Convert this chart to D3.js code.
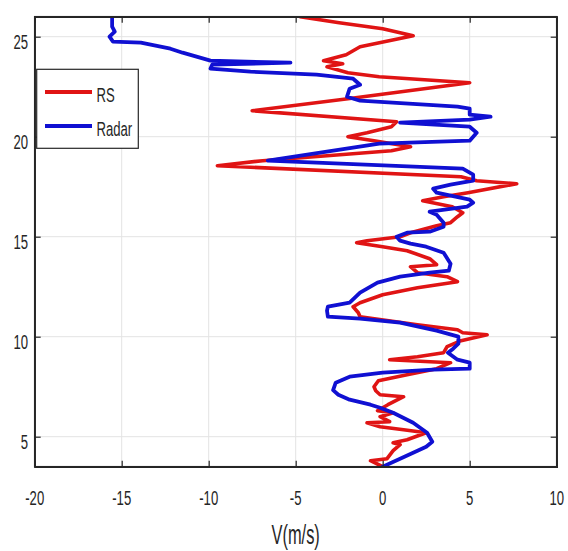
<!DOCTYPE html>
<html>
<head>
<meta charset="utf-8">
<script src="https://cdn.jsdelivr.net/npm/d3@7"></script>
<style>
  html, body { margin: 0; padding: 0; background: #fff; }
  svg { display: block; }
  text { font-family: "Liberation Sans", Arial, sans-serif; fill: #262626; }
</style>
</head>
<body>
<svg id="chart" width="568" height="551"></svg>
<script>
// ---- data ----
const rsHeight = [3.5,3.8,3.9,4.3,4.6,4.7,4.85,5.2,5.35,5.5,5.7,5.75,6.0,6.2,6.3,6.6,7.0,7.1,7.3,7.5,7.8,8.1,8.4,8.7,8.85,9.0,9.2,9.5,9.8,10.1,10.2,10.35,10.6,11.0,11.2,11.5,11.7,12.1,12.45,12.75,13.0,13.2,13.5,13.6,13.9,14.3,14.5,14.7,14.8,15.0,15.2,15.55,15.7,16.0,16.2,16.5,16.8,17.0,17.2,17.65,17.8,18.0,18.55,18.8,19.3,19.5,19.8,20.0,20.2,20.5,20.75,21.3,21.9,22.7,23.0,23.2,23.5,23.65,23.8,24.1,24.5,25.05,25.2,25.4,25.7,26.0];
const rsV      = [0,-0.7,0.25,0.6,1.0,0.6,1.4,2.5,1.2,-0.15,-0.9,0.4,-0.15,0.6,-0.3,0.3,1.2,-0.15,-0.4,-0.5,-0.25,1.4,3.1,3.9,0.4,2.0,3.5,3.7,4.5,6.0,4.6,4.3,2.0,-1.3,-1.4,-1.7,-1.3,0,2.0,4.3,3.7,2.0,1.6,3.1,2.7,1.4,0,-1.5,-0.9,1.0,1.6,3.1,3.9,4.3,4.6,4.0,2.3,3.5,4.9,7.7,5.4,4.5,-9.5,-6.9,0.5,1.6,-0.5,-2.0,-0.9,0.5,0.8,-7.5,-2.0,5.0,-0.2,-2.0,-3.2,-2.3,-3.4,-2.1,-1.3,1.75,1.0,0.0,-2.5,-4.75];

const radarHeight = [3.5,3.9,4.3,4.5,4.75,5.2,5.7,6.2,6.45,6.6,6.85,7.1,7.33,7.7,8.0,8.2,8.35,8.4,8.7,8.85,9.2,9.4,9.65,10.0,10.3,10.7,10.9,11.0,11.3,11.5,11.7,12.2,12.7,13.0,13.2,13.3,13.65,14.2,14.5,14.65,14.8,15.0,15.2,15.25,15.5,15.7,16.1,16.25,16.5,16.7,16.85,17.2,17.4,17.6,17.8,18.1,18.4,18.8,19.65,19.8,20.2,20.5,20.7,20.85,21.0,21.1,21.4,21.5,21.8,22.0,22.4,22.6,22.9,23.1,23.25,23.4,23.6,23.7,23.8,24.2,24.4,24.7,24.75,25.0,25.25,25.5,26.0];
const radarV      = [0,1.0,2.0,2.5,2.85,2.55,1.75,0.6,-0.15,-0.7,-1.9,-2.55,-2.85,-2.7,-1.9,0,2.9,5.0,5.0,4.3,3.75,4.05,4.35,4.35,3.1,1.0,-1.3,-3.15,-3.2,-3.15,-1.9,-1.3,-0.3,1.0,2.7,3.8,3.9,3.5,2.5,1.6,1.0,0.8,1.4,2.7,3.5,3.5,3.1,2.7,4.85,5.2,5.0,3.1,2.9,3.9,5.2,5.2,4.6,-6.6,-0.2,5.0,5.4,5.0,1.0,5.0,6.2,5.0,5.0,4.3,-1.3,-2.05,-1.9,-1.3,-1.7,-3.8,-7.6,-9.9,-9.8,-5.3,-9.9,-11.5,-12.2,-13.9,-15.5,-15.7,-15.4,-15.55,-15.55];

const xTicks = [-20,-15,-10,-5,0,5,10];
const yTicks = [5,10,15,20,25];
const seriesNames = ["RS","Radar"];
const seriesColors = ["#e01414","#1010d2"];
const xLabel = "V(m/s)";

// ---- layout ----
const svg = d3.select("#chart");
const L = 34.7, R = 556.7, T = 16.7, B = 466.7;
const x = d3.scaleLinear().domain([-20,10]).range([L,R]);
const y = d3.scaleLinear().domain([3.5,26]).range([B,T]);
const SX = 0.82, SY = 1.32;

function stretchedText(g, str, px, py, size, anchor, sy) {
  g.append("g").attr("transform", `translate(${px},${py}) scale(${SX},${sy||SY})`)
    .append("text").attr("text-anchor", anchor).attr("font-size", size).text(str);
}

svg.append("rect").attr("x",L).attr("y",T).attr("width",R-L).attr("height",B-T).attr("fill","#fff");

// grid
const grid = svg.append("g").attr("stroke","#e3e3e3").attr("stroke-width",1);
xTicks.forEach(t => grid.append("line").attr("x1",x(t)).attr("x2",x(t)).attr("y1",T).attr("y2",B));
yTicks.forEach(t => grid.append("line").attr("x1",L).attr("x2",R).attr("y1",y(t)).attr("y2",y(t)));

// clip
svg.append("clipPath").attr("id","clip").append("rect").attr("x",L).attr("y",T).attr("width",R-L).attr("height",B-T);

const line = d3.line().x(d => x(d[0])).y(d => y(d[1]));
const rsData = rsHeight.map((h,i) => [rsV[i], h]);
const radarData = radarHeight.map((h,i) => [radarV[i], h]);
const plot = svg.append("g").attr("clip-path","url(#clip)");
plot.append("path").datum(rsData).attr("d", line).attr("fill","none")
  .attr("stroke", seriesColors[0]).attr("stroke-width",3.6).attr("stroke-linejoin","round").attr("stroke-linecap","round");
plot.append("path").datum(radarData).attr("d", line).attr("fill","none")
  .attr("stroke", seriesColors[1]).attr("stroke-width",3.8).attr("stroke-linejoin","round").attr("stroke-linecap","round");

// axes box with inward ticks (via d3 axes)
const ax = svg.append("g").attr("stroke","#262626");
const tickLen = -6;
const bottomAxis = svg.append("g").attr("transform",`translate(0,${B})`)
  .call(d3.axisBottom(x).tickValues(xTicks).tickSize(tickLen).tickFormat(""));
const topAxis = svg.append("g").attr("transform",`translate(0,${T})`)
  .call(d3.axisTop(x).tickValues(xTicks).tickSize(tickLen).tickFormat(""));
const leftAxis = svg.append("g").attr("transform",`translate(${L},0)`)
  .call(d3.axisLeft(y).tickValues(yTicks).tickSize(tickLen).tickFormat(""));
const rightAxis = svg.append("g").attr("transform",`translate(${R},0)`)
  .call(d3.axisRight(y).tickValues(yTicks).tickSize(tickLen).tickFormat(""));
[bottomAxis, topAxis, leftAxis, rightAxis].forEach(a => {
  a.selectAll("path.domain").attr("stroke","#262626").attr("stroke-width",1.5);
  a.selectAll(".tick line").attr("stroke","#262626").attr("stroke-width",1.2);
});
svg.append("rect").attr("x",L).attr("y",T).attr("width",R-L).attr("height",B-T)
  .attr("fill","none").attr("stroke","#262626").attr("stroke-width",1.5);

// tick labels
const labels = svg.append("g");
xTicks.forEach(t => stretchedText(labels, String(t), x(t), 505, 16, "middle"));
yTicks.forEach(t => stretchedText(labels, String(t), 28, y(t) + 12.5, 16, "end"));

// x label
stretchedText(labels, xLabel, (L+R)/2, 544, 20, "middle", 1.4);

// legend
const lg = svg.append("g");
lg.append("rect").attr("x",36.7).attr("y",69.3).attr("width",101.6).attr("height",79)
  .attr("fill","#fff").attr("stroke","#262626").attr("stroke-width",1.2);
const legY = [92, 126];
seriesNames.forEach((n,i) => {
  lg.append("line").attr("x1",45).attr("x2",92).attr("y1",legY[i]).attr("y2",legY[i])
    .attr("stroke",seriesColors[i]).attr("stroke-width",4);
  stretchedText(lg, n, 96.5, legY[i] + 10, 16, "start");
});
</script>
</body>
</html>
